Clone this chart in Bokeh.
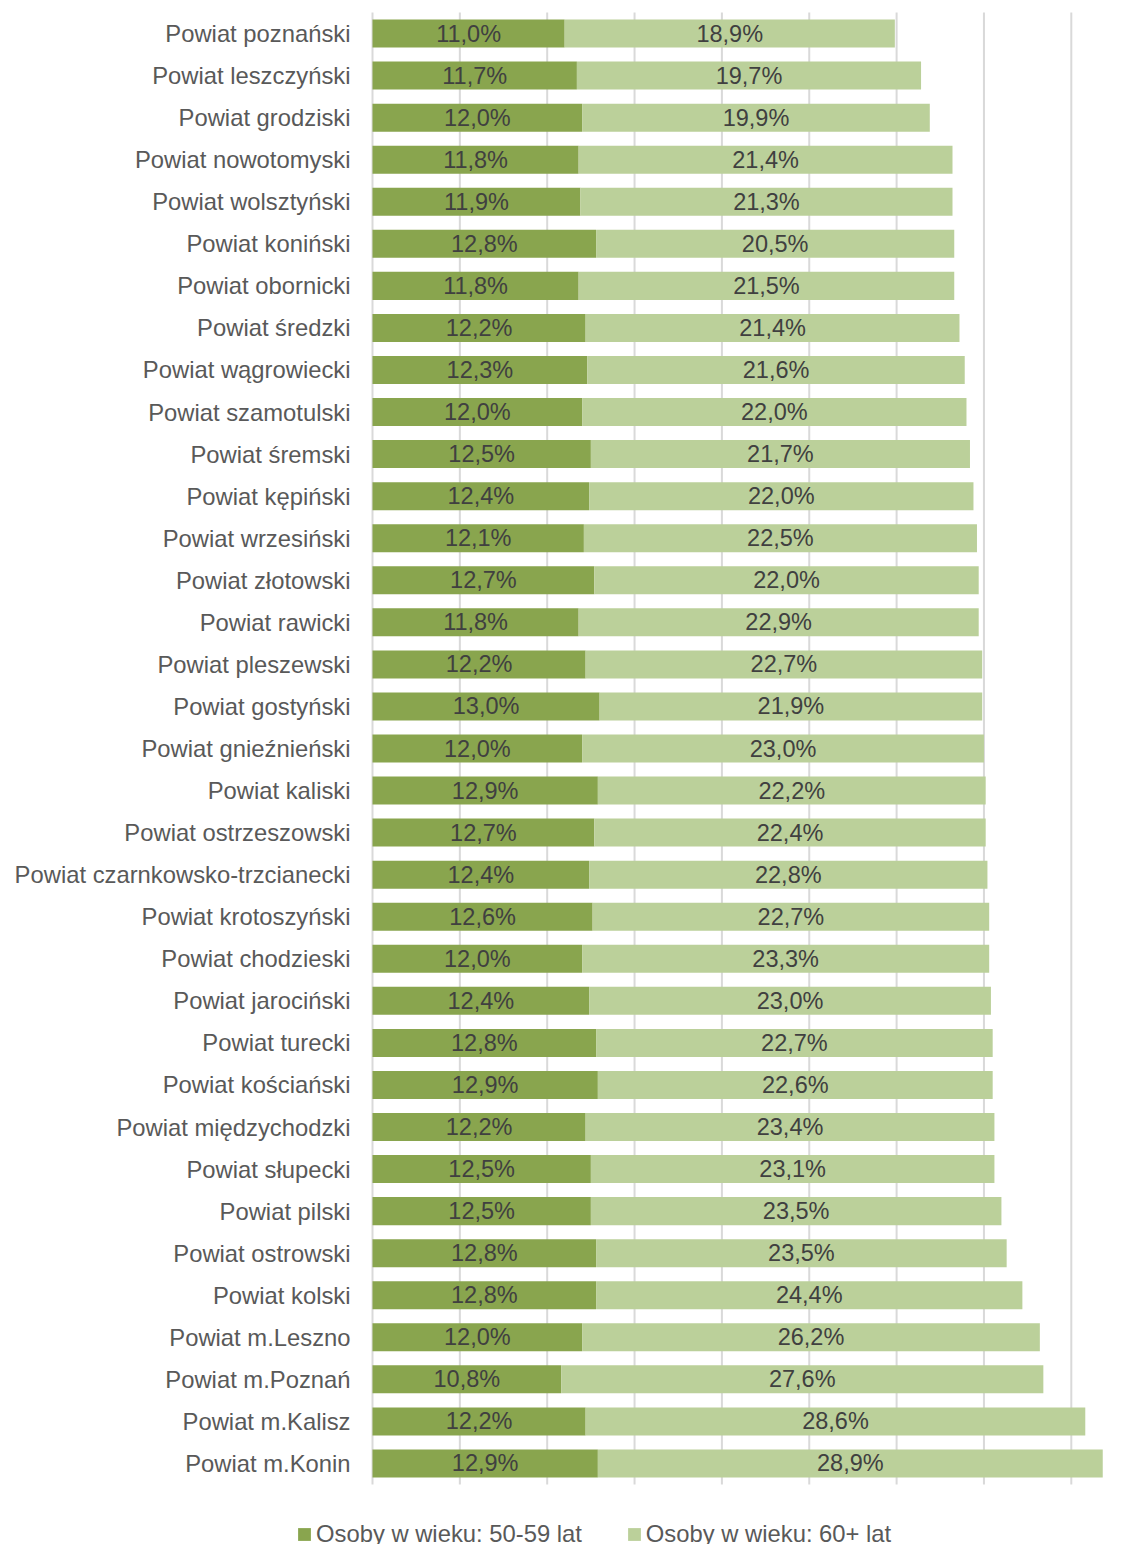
from bokeh.plotting import figure
from bokeh.models import ColumnDataSource, Range1d, Legend, LegendItem
from bokeh.core.properties import value
from bokeh.embed import file_html
from bokeh.resources import INLINE

categories = [
    "Powiat poznański", "Powiat leszczyński", "Powiat grodziski", "Powiat nowotomyski",
    "Powiat wolsztyński", "Powiat koniński", "Powiat obornicki", "Powiat średzki",
    "Powiat wągrowiecki", "Powiat szamotulski", "Powiat śremski", "Powiat kępiński",
    "Powiat wrzesiński", "Powiat złotowski", "Powiat rawicki", "Powiat pleszewski",
    "Powiat gostyński", "Powiat gnieźnieński", "Powiat kaliski", "Powiat ostrzeszowski",
    "Powiat czarnkowsko-trzcianecki", "Powiat krotoszyński", "Powiat chodzieski",
    "Powiat jarociński", "Powiat turecki", "Powiat kościański", "Powiat międzychodzki",
    "Powiat słupecki", "Powiat pilski", "Powiat ostrowski", "Powiat kolski",
    "Powiat m.Leszno", "Powiat m.Poznań", "Powiat m.Kalisz", "Powiat m.Konin",
]
age_50_59 = [11.0, 11.7, 12.0, 11.8, 11.9, 12.8, 11.8, 12.2, 12.3, 12.0, 12.5, 12.4,
             12.1, 12.7, 11.8, 12.2, 13.0, 12.0, 12.9, 12.7, 12.4, 12.6, 12.0, 12.4,
             12.8, 12.9, 12.2, 12.5, 12.5, 12.8, 12.8, 12.0, 10.8, 12.2, 12.9]
age_60_plus = [18.9, 19.7, 19.9, 21.4, 21.3, 20.5, 21.5, 21.4, 21.6, 22.0, 21.7, 22.0,
               22.5, 22.0, 22.9, 22.7, 21.9, 23.0, 22.2, 22.4, 22.8, 22.7, 23.3, 23.0,
               22.7, 22.6, 23.4, 23.1, 23.5, 23.5, 24.4, 26.2, 27.6, 28.6, 28.9]
series_names = ["Osoby w wieku: 50-59 lat", "Osoby w wieku: 60+ lat"]
grid_ticks = [0, 5, 10, 15, 20, 25, 30, 35, 40]

def fmt(v):
    return f"{v:.1f}".replace(".", ",") + "%"

n = len(categories)
ypos = [n - 1 - i for i in range(n)]  # first category on top

src = ColumnDataSource(dict(
    y=ypos,
    cat=categories,
    a=age_50_59,
    b=age_60_plus,
    a_mid=[v / 2 for v in age_50_59],
    b_mid=[a + b / 2 for a, b in zip(age_50_59, age_60_plus)],
    a_lbl=[fmt(v) for v in age_50_59],
    b_lbl=[fmt(v) for v in age_60_plus],
    zero=[0] * n,
))

FONT = "Liberation Sans"
DARK = "#89A54E"
LIGHT = "#BBD09A"
TEXT = "#595959"

# canvas geometry: plot band 372..1143 px horizontally, 12..1484 px vertically
W, H = 1143, 1544
PX_PER_PCT = 17.47
LEFT, TOP, BOTTOM = 372, 12, 1484
band = (BOTTOM - TOP) / n
x_range = Range1d(-LEFT / PX_PER_PCT, (W - LEFT) / PX_PER_PCT)
y_range = Range1d(-0.5 - (H - BOTTOM) / band, n - 0.5 + TOP / band)

p = figure(width=W, height=H, output_backend="svg", toolbar_location=None,
           x_range=x_range, y_range=y_range,
           x_axis_location=None, y_axis_location=None,
           min_border_left=0, min_border_right=0, min_border_top=0,
           min_border_bottom=0)
p.outline_line_color = None
p.xgrid.visible = False
p.ygrid.visible = False

# vertical gridlines spanning the category band
p.segment(x0=grid_ticks, x1=grid_ticks,
          y0=[-0.5] * len(grid_ticks), y1=[n - 0.5] * len(grid_ticks),
          line_color="#D9D9D9", line_width=2)

rs = p.hbar_stack(["a", "b"], y="y", height=0.666, color=[DARK, LIGHT],
                  line_color=None, source=src)

for col, xcol in (("a_lbl", "a_mid"), ("b_lbl", "b_mid")):
    p.text(x=xcol, y="y", text=col, source=src, text_align="center",
           text_baseline="middle", text_font=value(FONT), text_font_size="23.5px",
           text_color="#404040")

# category labels
p.text(x="zero", y="y", text="cat", source=src, x_offset=-22,
       text_align="right", text_baseline="middle", text_font=value(FONT),
       text_font_size="23.8px", text_color=TEXT)

legend = Legend(items=[LegendItem(label=series_names[0], renderers=[rs[0]]),
                       LegendItem(label=series_names[1], renderers=[rs[1]])],
                location=(296, -4), orientation="horizontal",
                glyph_width=16, glyph_height=16, label_standoff=4, spacing=44,
                padding=0, margin=0, border_line_color=None,
                background_fill_alpha=0, label_height=13,
                label_text_font=FONT, label_text_font_size="23.8px",
                label_text_color=TEXT)
p.add_layout(legend)

open("out.html", "w").write(file_html(p, INLINE))
